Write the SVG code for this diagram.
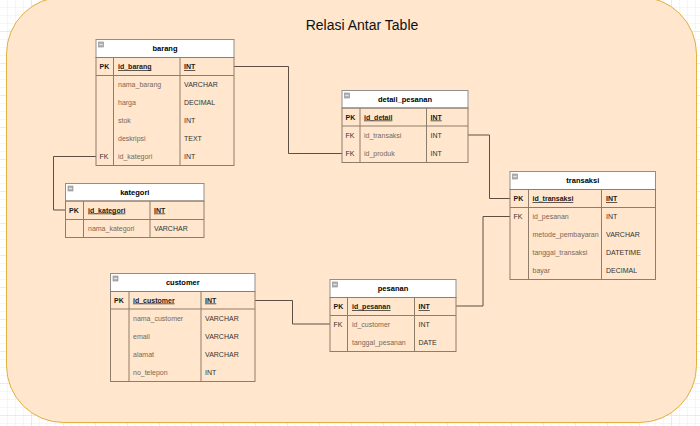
<svg xmlns="http://www.w3.org/2000/svg" width="700" height="426" viewBox="0 0 700 426">
<defs>
<pattern id="grid" width="8" height="8" patternUnits="userSpaceOnUse">
<path d="M8 0V8M0 8H8" fill="none" stroke="#e9e9e9" stroke-width="0.8"/>
</pattern>
<pattern id="gridMajor" width="32" height="32" patternUnits="userSpaceOnUse">
<path d="M32 0V32M0 32H32" fill="none" stroke="#d6d6d6" stroke-width="0.8"/>
</pattern>
<g id="icon"><rect x="0" y="0" width="5" height="5" fill="#b4b4b4" stroke="#8a8a8a" stroke-width="0.6"/><line x1="1" y1="2.5" x2="4" y2="2.5" stroke="#f2f2f2" stroke-width="0.8"/></g>
</defs>
<style>
.hdr{fill:#ffffff;stroke:#8f8f8f;stroke-width:1}
.frame{fill:none;stroke:#8f7d6b;stroke-width:1}
.ln{stroke:#8f7d6b;stroke-width:1}
text{font-family:"Liberation Sans",Arial,sans-serif;font-size:7px}
.ttl{font-weight:bold;fill:#000;font-size:7.5px;text-anchor:middle}
.pk{font-weight:bold;fill:#1a1a1a}
.fk{fill:#333}
.key{font-weight:bold;fill:#1a1a1a;text-decoration:underline}
.nm{fill:#7a6858}
.ty{fill:#333}
.conn path{fill:none;stroke:#5c4f43;stroke-width:1}
</style>
<rect width="700" height="426" fill="#ffffff"/>
<rect width="700" height="426" fill="url(#grid)"/>
<rect width="700" height="426" fill="url(#gridMajor)"/>
<rect id="background" x="6.5" y="-3" width="690" height="425.5" rx="57" ry="57" fill="#ffe6cc" stroke="#e0b040" stroke-width="1"/>
<text x="362" y="30" font-size="14" text-anchor="middle" fill="#111" style="font-size:14px">Relasi Antar Table</text>

<g class="conn" id="connectors">
<path d="M234,66.5 H288.5 V153.5 H342"/>
<path d="M468,135 H489.5 V198.5 H510"/>
<path d="M456,306 H483 V216.5 H510"/>
<path d="M255,300.5 H292.5 V324 H330"/>
<path d="M96,156.5 H53.5 V210 H65.5"/>
</g>

<g id="barang">
<rect class="hdr" x="96" y="39.5" width="138" height="18"/>
<use href="#icon" x="98.5" y="42"/>
<text class="ttl" x="165" y="51.3">barang</text>
<rect class="frame" x="96" y="57.5" width="138" height="108"/>
<line class="ln" x1="96" y1="75.5" x2="234" y2="75.5"/>
<line class="ln" x1="113.5" y1="57.5" x2="113.5" y2="165.5"/>
<line class="ln" x1="180" y1="57.5" x2="180" y2="165.5"/>
<text class="pk" x="99.5" y="69">PK</text>
<text class="key" x="118" y="69">id_barang</text>
<text class="key" x="184" y="69">INT</text>
<text class="nm" x="118" y="87">nama_barang</text><text class="ty" x="184" y="87">VARCHAR</text>
<text class="nm" x="118" y="105">harga</text><text class="ty" x="184" y="105">DECIMAL</text>
<text class="nm" x="118" y="123">stok</text><text class="ty" x="184" y="123">INT</text>
<text class="nm" x="118" y="141">deskripsi</text><text class="ty" x="184" y="141">TEXT</text>
<text class="fk" x="99.5" y="159">FK</text><text class="nm" x="118" y="159">id_kategori</text><text class="ty" x="184" y="159">INT</text>
</g>

<g id="detail_pesanan">
<rect class="hdr" x="342" y="90.5" width="126" height="17.5"/>
<use href="#icon" x="344.5" y="93"/>
<text class="ttl" x="405" y="102">detail_pesanan</text>
<rect class="frame" x="342" y="108" width="126" height="54.5"/>
<line class="ln" x1="342" y1="126" x2="468" y2="126"/>
<line class="ln" x1="360" y1="108" x2="360" y2="162.5"/>
<line class="ln" x1="426.5" y1="108" x2="426.5" y2="162.5"/>
<text class="pk" x="345.5" y="119.5">PK</text>
<text class="key" x="364" y="119.5">id_detail</text>
<text class="key" x="430.5" y="119.5">INT</text>
<text class="fk" x="345.5" y="137.5">FK</text><text class="nm" x="364" y="137.5">id_transaksi</text><text class="ty" x="430.5" y="137.5">INT</text>
<text class="fk" x="345.5" y="155.5">FK</text><text class="nm" x="364" y="155.5">id_produk</text><text class="ty" x="430.5" y="155.5">INT</text>
</g>

<g id="kategori">
<rect class="hdr" x="65.5" y="183.5" width="138.5" height="17.5"/>
<use href="#icon" x="68" y="186"/>
<text class="ttl" x="134.8" y="195">kategori</text>
<rect class="frame" x="65.5" y="201" width="138.5" height="36.5"/>
<line class="ln" x1="65.5" y1="219.5" x2="204" y2="219.5"/>
<line class="ln" x1="83.5" y1="201" x2="83.5" y2="237.5"/>
<line class="ln" x1="150" y1="201" x2="150" y2="237.5"/>
<text class="pk" x="69" y="212.5">PK</text>
<text class="key" x="88" y="212.5">id_kategori</text>
<text class="key" x="154" y="212.5">INT</text>
<text class="nm" x="88" y="231">nama_kategori</text><text class="ty" x="154" y="231">VARCHAR</text>
</g>

<g id="transaksi">
<rect class="hdr" x="510" y="171.5" width="145.5" height="18"/>
<use href="#icon" x="512.5" y="174"/>
<text class="ttl" x="582.8" y="183.3">transaksi</text>
<rect class="frame" x="510" y="189.5" width="145.5" height="90"/>
<line class="ln" x1="510" y1="207.5" x2="655.5" y2="207.5"/>
<line class="ln" x1="528.5" y1="189.5" x2="528.5" y2="279.5"/>
<line class="ln" x1="601.5" y1="189.5" x2="601.5" y2="279.5"/>
<text class="pk" x="513.5" y="201">PK</text>
<text class="key" x="532.5" y="201">id_transaksi</text>
<text class="key" x="606" y="201">INT</text>
<text class="fk" x="513.5" y="219">FK</text><text class="nm" x="532.5" y="219">id_pesanan</text><text class="ty" x="606" y="219">INT</text>
<text class="nm" x="532.5" y="237">metode_pembayaran</text><text class="ty" x="606" y="237">VARCHAR</text>
<text class="nm" x="532.5" y="255">tanggal_transaksi</text><text class="ty" x="606" y="255">DATETIME</text>
<text class="nm" x="532.5" y="273">bayar</text><text class="ty" x="606" y="273">DECIMAL</text>
</g>

<g id="customer">
<rect class="hdr" x="110.5" y="273.5" width="144.5" height="18"/>
<use href="#icon" x="113" y="276"/>
<text class="ttl" x="182.8" y="285.3">customer</text>
<rect class="frame" x="110.5" y="291.5" width="144.5" height="90"/>
<line class="ln" x1="110.5" y1="309" x2="255" y2="309"/>
<line class="ln" x1="129" y1="291.5" x2="129" y2="381.5"/>
<line class="ln" x1="201" y1="291.5" x2="201" y2="381.5"/>
<text class="pk" x="114" y="302.5">PK</text>
<text class="key" x="133" y="302.5">id_customer</text>
<text class="key" x="205" y="302.5">INT</text>
<text class="nm" x="133" y="320.5">nama_customer</text><text class="ty" x="205" y="320.5">VARCHAR</text>
<text class="nm" x="133" y="338.5">email</text><text class="ty" x="205" y="338.5">VARCHAR</text>
<text class="nm" x="133" y="356.5">alamat</text><text class="ty" x="205" y="356.5">VARCHAR</text>
<text class="nm" x="133" y="374.5">no_telepon</text><text class="ty" x="205" y="374.5">INT</text>
</g>

<g id="pesanan">
<rect class="hdr" x="330" y="279.5" width="126" height="18"/>
<use href="#icon" x="332.5" y="282"/>
<text class="ttl" x="393" y="291.3">pesanan</text>
<rect class="frame" x="330" y="297.5" width="126" height="54"/>
<line class="ln" x1="330" y1="315.5" x2="456" y2="315.5"/>
<line class="ln" x1="347.5" y1="297.5" x2="347.5" y2="351.5"/>
<line class="ln" x1="414.5" y1="297.5" x2="414.5" y2="351.5"/>
<text class="pk" x="333.5" y="309">PK</text>
<text class="key" x="352" y="309">id_pesanan</text>
<text class="key" x="418.5" y="309">INT</text>
<text class="fk" x="333.5" y="327">FK</text><text class="nm" x="352" y="327">id_customer</text><text class="ty" x="418.5" y="327">INT</text>
<text class="nm" x="352" y="345">tanggal_pesanan</text><text class="ty" x="418.5" y="345">DATE</text>
</g>
</svg>
